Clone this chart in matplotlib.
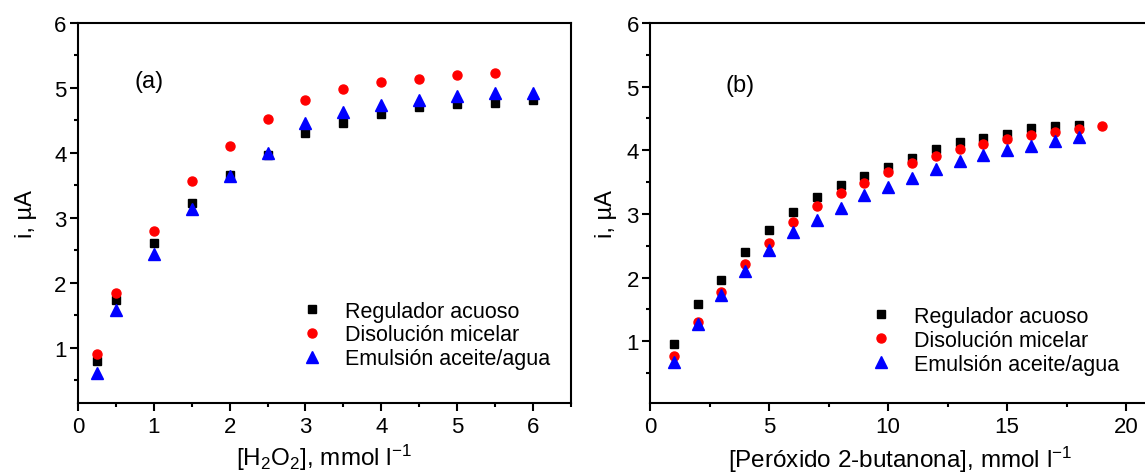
import numpy as np
import matplotlib
matplotlib.use("Agg")
import matplotlib.pyplot as plt
from matplotlib.ticker import MultipleLocator

plt.rcParams['font.family'] = ['Liberation Sans', 'DejaVu Sans']
plt.rcParams['mathtext.fontset'] = 'custom'
plt.rcParams['mathtext.rm'] = 'Liberation Sans'
plt.rcParams['mathtext.it'] = 'Liberation Sans'

# panel (a): H2O2
x_a = [0.25, 0.5, 1, 1.5, 2, 2.5, 3, 3.5, 4, 4.5, 5, 5.5, 6]
reg_a = [0.80, 1.74, 2.62, 3.23, 3.66, 3.97, 4.30, 4.46, 4.60, 4.70, 4.75, 4.77, 4.82]
mic_a = [0.90, 1.85, 2.80, 3.56, 4.11, 4.52, 4.82, 4.98, 5.09, 5.14, 5.20, 5.23]
emu_a = [0.61, 1.58, 2.45, 3.13, 3.64, 4.00, 4.46, 4.63, 4.74, 4.82, 4.88, 4.92, 4.92]

# panel (b): peroxido 2-butanona
x_b = list(range(1, 20))
reg_b = [0.96, 1.58, 1.96, 2.40, 2.74, 3.03, 3.26, 3.46, 3.60, 3.74, 3.88, 4.02,
         4.13, 4.19, 4.26, 4.35, 4.38, 4.40]
mic_b = [0.77, 1.30, 1.77, 2.21, 2.54, 2.88, 3.12, 3.33, 3.48, 3.65, 3.80, 3.91,
         4.02, 4.09, 4.17, 4.24, 4.29, 4.34, 4.38]
emu_b = [0.67, 1.27, 1.72, 2.11, 2.44, 2.71, 2.90, 3.09, 3.29, 3.43, 3.57, 3.71,
         3.83, 3.93, 4.00, 4.07, 4.15, 4.20]

series = ["Regulador acuoso", "Disolución micelar", "Emulsión aceite/agua"]

fig = plt.figure(figsize=(11.45, 4.77), dpi=100)
ax1 = fig.add_axes([0.068, 0.153, 0.4307, 0.797])
ax2 = fig.add_axes([0.5677, 0.153, 0.4367, 0.797])


def dibujar(ax, x, reg, mic, emu, ley_pos):
    ax.plot(x[:len(reg)], reg, 's', color='black', ms=6, label=series[0])
    ax.plot(x[:len(mic)], mic, 'o', color='red', ms=6.5, label=series[1])
    ax.plot(x[:len(emu)], emu, '^', color='blue', ms=8.5, label=series[2])
    for s in ax.spines.values():
        s.set_linewidth(1.5)
    ax.tick_params(which='major', direction='out', length=6, width=1.5,
                   top=False, right=False, labelsize=16)
    ax.tick_params(axis='x', which='major', pad=3)
    ax.tick_params(axis='y', which='major', pad=2)
    ax.tick_params(which='minor', direction='out', length=3, width=1.5,
                   top=False, right=False)
    ax.set_yticks([1, 2, 3, 4, 5, 6])
    ax.yaxis.set_minor_locator(MultipleLocator(0.5))
    ax.set_ylabel("i, µA", fontsize=17)
    ax.legend(frameon=False, fontsize=15.5, handlelength=1.5, handletextpad=0.8,
              labelspacing=0.13, borderaxespad=0, loc='upper left',
              bbox_to_anchor=ley_pos)


dibujar(ax1, x_a, reg_a, mic_a, emu_a, (0.424, 0.292))
ax1.set_xlim(0, 6.5)
ax1.set_ylim(0.15, 6)
ax1.xaxis.set_major_locator(MultipleLocator(1))
ax1.xaxis.set_minor_locator(MultipleLocator(0.5))
ax1.set_xlabel(r"[H$_2$O$_2$], mmol l$^{-1}$", fontsize=17.5, labelpad=4)
ax1.yaxis.set_label_coords(-0.083, 0.5)
ax1.text(0.115, 0.83, "(a)", transform=ax1.transAxes, fontsize=17)

dibujar(ax2, x_b, reg_b, mic_b, emu_b, (0.412, 0.278))
ax2.set_xlim(0, 21)
ax2.set_ylim(0.03, 6)
ax2.xaxis.set_major_locator(MultipleLocator(5))
ax2.xaxis.set_minor_locator(MultipleLocator(2.5))
ax2.set_xlabel(r"[Peróxido 2-butanona], mmol l$^{-1}$", fontsize=17.5, labelpad=5)
ax2.yaxis.set_label_coords(-0.066, 0.5)
ax2.text(0.15, 0.82, "(b)", transform=ax2.transAxes, fontsize=17)

fig.savefig("out.png", dpi=100)
